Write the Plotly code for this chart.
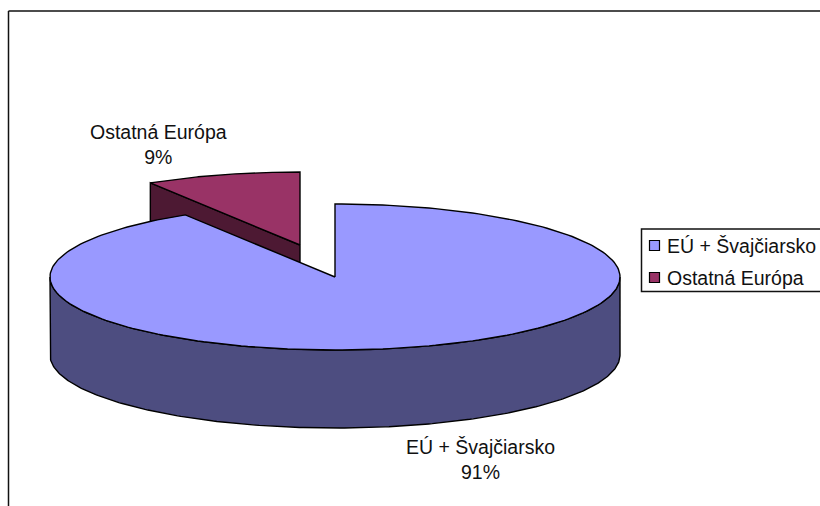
import numpy as np
import plotly.graph_objects as go

categories = ["EÚ + Švajčiarsko", "Ostatná Európa"]
values = [91.2, 8.8]
top_colors = ["#9999FF", "#993366"]
side_colors = ["#4D4D80", "#4D1933"]

W, H = 820, 506
CX, CY, RX, RY, DEPTH = 335, 277, 285, 73, 78
OFFSET = (-35, -32)
FONT = "Liberation Sans, Arial, sans-serif"
FS = 19.5


def pt(deg, cx, cy, drop=0):
    r = np.radians(deg)
    return cx + RX * np.sin(r), cy - RY * np.cos(r) + drop


def arc(a, b, cx, cy, drop=0):
    t = np.linspace(a, b, 240)
    return pt(t, cx, cy, drop)


def poly(x, y, color, name):
    return go.Scatter(x=list(x), y=list(y), mode="lines", fill="toself", fillcolor=color,
                      line=dict(color="black", width=1.4), name=name, hoverinfo="name",
                      showlegend=False)


total = sum(values)
a_main = 360 * values[0] / total
sx, sy = CX + OFFSET[0], CY + OFFSET[1]

fig = go.Figure()

# small slice: cut wall, then top
x0, y0 = pt(a_main, sx, sy)
fig.add_trace(poly([sx, x0, x0, sx, sx], [sy, y0, y0 + DEPTH, sy + DEPTH, sy], side_colors[1], categories[1]))
ax, ay = arc(a_main, 360, sx, sy)
fig.add_trace(poly(np.r_[sx, ax, sx], np.r_[sy, ay, sy], top_colors[1], categories[1]))

# main slice: front wall, then top
fx, fy = arc(90, 270, CX, CY)
bx, by = arc(270, 90, CX, CY, DEPTH)
fig.add_trace(poly(np.r_[fx, bx, fx[0]], np.r_[fy, by, fy[0]], side_colors[0], categories[0]))
mx, my = arc(0, a_main, CX, CY)
fig.add_trace(poly(np.r_[CX, mx, CX], np.r_[CY, my, CY], top_colors[0], categories[0]))

# legend swatches
leg_y = [245.5, 277.5]
fig.add_trace(go.Scatter(x=[654.5, 654.5], y=leg_y, mode="markers", showlegend=False, hoverinfo="skip",
                         marker=dict(symbol="square", size=10, color=top_colors,
                                     line=dict(color="black", width=1.2))))

ann = []
for name, v, lx, ly in zip(categories, values, [480, 158], [459, 144]):
    ann.append(dict(x=lx, y=ly, text=f"{name}<br>{round(v)}%", showarrow=False,
                    xanchor="center", yanchor="middle", align="center"))
for name, ly in zip(categories, leg_y):
    ann.append(dict(x=665, y=ly, text=name, showarrow=False, xanchor="left", yanchor="middle"))
for a in ann:
    a.update(xref="x", yref="y", font=dict(family=FONT, size=FS, color="#111111"))

line = dict(color="#111111", width=1.5)
shapes = [
    dict(type="line", x0=8.5, x1=8.5, y0=11, y1=H, line=line, layer="below"),
    dict(type="line", x0=8.5, x1=W, y0=11, y1=11, line=line, layer="below"),
    dict(type="rect", x0=641.5, x1=W + 2, y0=229, y1=291.5, line=line, fillcolor="white", layer="below"),
]

fig.update_layout(
    width=W, height=H, margin=dict(l=0, r=0, t=0, b=0), paper_bgcolor="white", plot_bgcolor="white",
    showlegend=False, annotations=ann, shapes=shapes,
    xaxis=dict(range=[0, W], visible=False, fixedrange=True),
    yaxis=dict(range=[H, 0], visible=False, fixedrange=True),
)
fig.write_html("out.html", config=dict(displayModeBar=False), post_script="document.body.style.margin='0';")
